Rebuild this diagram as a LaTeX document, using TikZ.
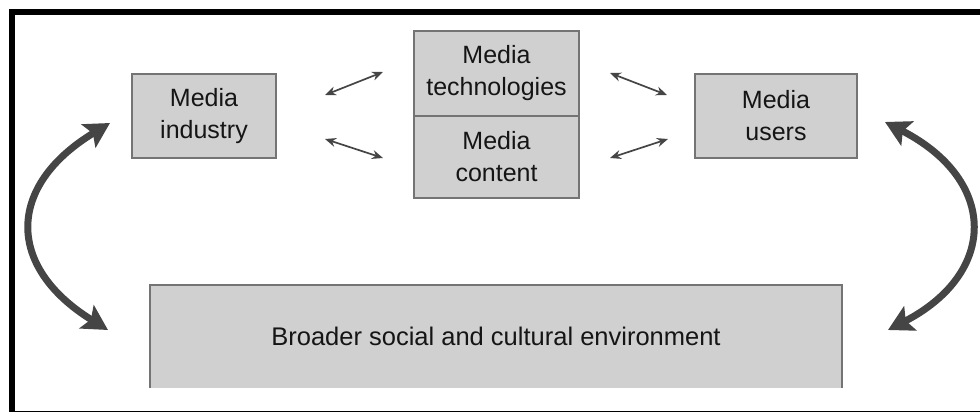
\documentclass[tikz,border=0pt]{standalone}
\usepackage{fontspec}
\setmainfont{Liberation Sans}
\usetikzlibrary{arrows.meta}
\definecolor{boxfill}{HTML}{D0D0D0}
\definecolor{boxline}{HTML}{747474}
\definecolor{arrowgrey}{HTML}{454545}
\definecolor{ink}{HTML}{151515}
\begin{document}
\begin{tikzpicture}[x=1pt,y=-1pt,
  box/.style={fill=boxfill, draw=boxline, line width=1.5pt, text=ink,
    align=center, inner sep=0pt, font=\fontsize{25}{32}\selectfont},
  link/.style={arrowgrey, line width=1.7pt,
    {Stealth[length=11pt,width=9pt]}-{Stealth[length=11pt,width=9pt]}},
  bigloop/.style={arrowgrey, line width=7pt,
    {Stealth[length=25pt,width=27pt,inset=5pt]}-{Stealth[length=25pt,width=27pt,inset=5pt]}}]

\useasboundingbox (0,0) rectangle (980,412);

% outer frame (open on the right)
\draw[line width=6pt, line join=miter] (12,412) -- (12,12) -- (980,12);
\draw[line width=1.5pt] (9,411.3) -- (980,411.3);

% boxes
\node[box, minimum width=144pt, minimum height=84pt] (industry) at (204,116) {Media\\industry};
\node[box, minimum width=162pt, minimum height=84pt] (users) at (776,116) {Media\\users};
\node[box, minimum width=165pt, minimum height=85pt] (tech) at (496.5,73.5) {Media\\technologies};
\node[box, minimum width=165pt, minimum height=82pt] (content) at (496.5,157) {Media\\content};

% environment box: filled, outlined on three sides
\node[fill=boxfill, text=ink, inner sep=0pt, minimum width=692pt, minimum height=103pt,
  font=\fontsize{25.5}{30}\selectfont] (env) at (496,336.5) {Broader social and cultural environment};
\draw[boxline, line width=1.5pt] (env.south west) -- (env.north west) -- (env.north east) -- (env.south east);

% small two-way links
\coordinate (l1a) at (325,95);  \coordinate (l1b) at (383,72);
\coordinate (l2a) at (325,139); \coordinate (l2b) at (383,158);
\coordinate (r1a) at (610,73);  \coordinate (r1b) at (667,95);
\coordinate (r2a) at (610,158); \coordinate (r2b) at (668,139);
\draw[link] (l1a) -- (l1b);
\draw[link] (l2a) -- (l2b);
\draw[link] (r1a) -- (r1b);
\draw[link] (r2a) -- (r2b);

% large curved two-way arrows
\coordinate (lt) at (110,123); \coordinate (lb) at (108,330);
\coordinate (rt) at (885,122); \coordinate (rb) at (888,330);
\draw[bigloop] (lt) .. controls (6,186) and (6,267) .. (lb);
\draw[bigloop] (rt) .. controls (998,180) and (998,273) .. (rb);
\end{tikzpicture}
\end{document}
